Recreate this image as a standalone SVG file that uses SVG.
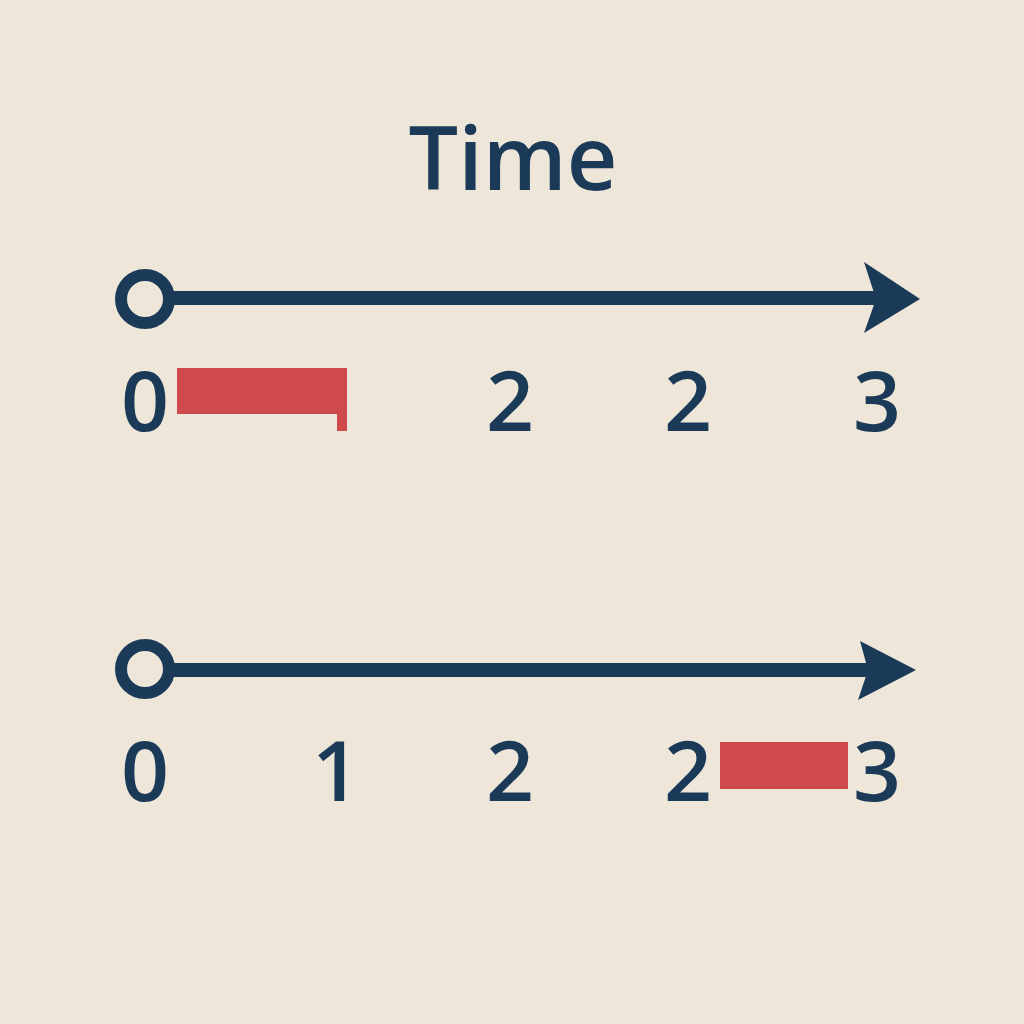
<svg xmlns="http://www.w3.org/2000/svg" width="1024" height="1024" viewBox="0 0 1024 1024">
<style>
.ax{stroke:#1b3a58;stroke-width:14;fill:none}
.ring{stroke:#1b3a58;stroke-width:12;fill:#ede6d9}
.head{fill:#1b3a58}
.lbl{font-family:"Open Sans","Noto Sans",sans-serif;font-size:84px;font-weight:600;fill:#1b3a58;text-anchor:middle}
.title{font-family:"Open Sans","Noto Sans",sans-serif;font-size:88px;font-weight:600;fill:#1b3a58;text-anchor:middle}
.bar{fill:#cf4a4d}
</style>
<rect width="1024" height="1024" fill="#ede6d9"/>
<text class="title" x="513" y="190">Time</text>
<g id="connectors">
<line class="ax" x1="165" y1="298" x2="880" y2="298"/>
<path class="head" d="M864 262 L920 299 L864 333 L876 299 Z"/>
<line class="ax" x1="165" y1="670" x2="875" y2="670"/>
<path class="head" d="M860 641 L916 670 L858 700 L868 670 Z"/>
</g>
<g id="origin-top"><circle class="ring" cx="145" cy="299" r="24"/></g>
<g id="origin-bottom"><circle class="ring" cx="145" cy="669" r="24"/></g>
<g id="labels-top">
<text class="lbl" x="145" y="431">0</text>
<text class="lbl" x="510" y="431">2</text>
<text class="lbl" x="688" y="431">2</text>
<text class="lbl" x="877" y="431">3</text>
</g>
<g id="bar-top">
<rect class="bar" x="177" y="368" width="170" height="46"/>
<rect class="bar" x="337" y="368" width="10" height="63"/>
</g>
<g id="labels-bottom">
<text class="lbl" x="145" y="801">0</text>
<text class="lbl" x="336" y="801">1</text>
<text class="lbl" x="510" y="801">2</text>
<text class="lbl" x="688" y="801">2</text>
<text class="lbl" x="877" y="801">3</text>
</g>
<g id="bar-bottom">
<rect class="bar" x="720" y="742" width="128" height="47"/>
</g>
</svg>
